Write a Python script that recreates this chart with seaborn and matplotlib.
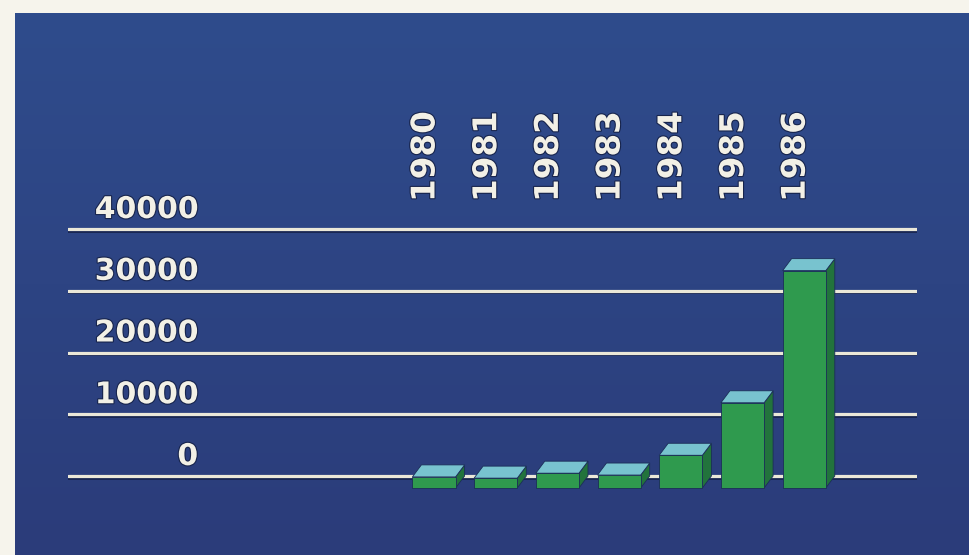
import numpy as np
import pandas as pd
import matplotlib
matplotlib.use("Agg")
import matplotlib.pyplot as plt
import matplotlib.transforms as mtransforms
import matplotlib.patheffects as pe
from matplotlib.colors import LinearSegmentedColormap
from matplotlib.patches import Polygon
import seaborn as sns

# --- data -------------------------------------------------------------
years = ["1980", "1981", "1982", "1983", "1984", "1985", "1986"]
values = [1800, 1600, 2400, 2100, 5300, 13800, 35200]
tick_values = [0, 10000, 20000, 30000, 40000]
tick_labels = ["0", "10000", "20000", "30000", "40000"]

# --- style ------------------------------------------------------------
sns.set_theme(style="white")
plt.rcParams["font.family"] = ["DejaVu Sans", "DejaVu Sans Mono"]

W, H, DPI = 969, 555, 100
PAPER = "#f6f4ec"
SCREEN_TOP, SCREEN_BOT = "#2f4c8c", "#2b3c7a"
FRONT, SIDE, TOP = "#2f9a4e", "#22733c", "#78c3cf"
RULE = "#ebe8d8"
TEXT = "#f2f0e6"
OUTLINE = "#17244c"

fig = plt.figure(figsize=(W / DPI, H / DPI), dpi=DPI, facecolor=PAPER)

# screen background
bg = fig.add_axes([15 / W, 0, 1 - 15 / W, (H - 13) / H])
cmap = LinearSegmentedColormap.from_list("screen", [SCREEN_BOT, SCREEN_TOP])
grad = np.linspace(0, 1, 256).reshape(-1, 1)
bg.imshow(grad, aspect="auto", cmap=cmap, origin="lower", extent=[0, 1, 0, 1])
bg.set_axis_off()

# plotting area: rules run from x=68px to 917px
left_px, right_px = 68, 917
ax = fig.add_axes([left_px / W, 0, (right_px - left_px) / W, (H - 13) / H])
ax.patch.set_alpha(0)

px_per_val = 247 / 40000.0      # vertical scale
px_per_cat = 61.7               # horizontal spacing between bars
zero_px_from_bottom = H - 476
first_center_px = 443

df = pd.DataFrame({"year": years, "value": values})
sns.barplot(data=df, x="year", y="value", ax=ax, width=0.7, color=FRONT,
            saturation=1, edgecolor="#1b2d58", linewidth=0.6, zorder=3)

ymin = -zero_px_from_bottom / px_per_val
ax.set_ylim(ymin, ymin + (H - 13) / px_per_val)
xmin = -(first_center_px - left_px) / px_per_cat
ax.set_xlim(xmin, xmin + (right_px - left_px) / px_per_cat)
ax.set_axis_off()

# horizontal rules with a faint shadow underneath
shadow_shift = mtransforms.ScaledTranslation(0, -2.5 / DPI, fig.dpi_scale_trans)
for t in tick_values:
    sh = ax.axhline(t, color="#16224a", lw=1.2, zorder=1)
    sh.set_transform(sh.get_transform() + shadow_shift)
    ax.axhline(t, color=RULE, lw=2.3, zorder=2)

# 3-D blocks: bars shifted forward, plus top and side faces
dx, dy = 9, 12
dx_d, dy_d = dx / px_per_cat, dy / px_per_val
shift = mtransforms.ScaledTranslation(-dx / DPI, -dy / DPI, fig.dpi_scale_trans)
for p in list(ax.patches):
    x0, w, h = p.get_x(), p.get_width(), p.get_height()
    top = Polygon([(x0 - dx_d, h - dy_d), (x0 + w - dx_d, h - dy_d), (x0 + w, h), (x0, h)],
                  closed=True, facecolor=TOP, edgecolor="#1b2d58", lw=0.6, zorder=3)
    side = Polygon([(x0 + w - dx_d, h - dy_d), (x0 + w, h), (x0 + w, 0), (x0 + w - dx_d, -dy_d)],
                   closed=True, facecolor=SIDE, edgecolor="#1b2d58", lw=0.6, zorder=3)
    ax.add_patch(side)
    ax.add_patch(top)
    p.set_transform(ax.transData + shift)
    p.set_zorder(4)

glow = [pe.withStroke(linewidth=1.6, foreground=OUTLINE)]

# value labels above each rule
label_x = (198 - left_px) / (right_px - left_px)
for t, lab in zip(tick_values, tick_labels):
    ax.annotate(lab, xy=(label_x, t), xycoords=ax.get_yaxis_transform(),
                xytext=(0, 11), textcoords="offset pixels", ha="right", va="baseline",
                fontsize=21.5, fontweight="bold", color=TEXT, zorder=5,
                path_effects=glow)

# year captions, vertical
for i, yr in enumerate(years):
    ax.annotate(yr, xy=(i, tick_values[-1]), xycoords="data",
                xytext=(-18, 27), textcoords="offset pixels", rotation=90,
                ha="center", va="bottom", fontsize=23.5, fontweight="bold",
                color=TEXT, zorder=5, path_effects=glow)

fig.savefig("out.png", dpi=DPI, facecolor=PAPER)
